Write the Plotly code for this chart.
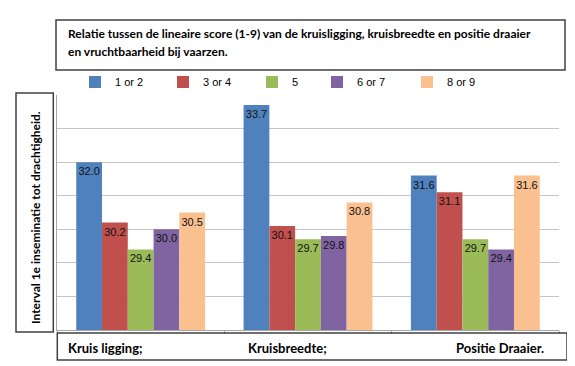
import plotly.graph_objects as go

categories = ["Kruis ligging;", "Kruisbreedte;", "Positie Draaier."]
series_names = ["1 or 2", "3 or 4", "5", "6 or 7", "8 or 9"]
values_1_2 = [32.0, 33.7, 31.6]
values_3_4 = [30.2, 30.1, 31.1]
values_5 = [29.4, 29.7, 29.7]
values_6_7 = [30.0, 29.8, 29.4]
values_8_9 = [30.5, 30.8, 31.6]
colors = ["#4F81BD", "#C0504D", "#9BBB59", "#8064A2", "#FAC090"]
title_lines = [
    "Relatie tussen de lineaire score (1-9) van de kruisligging, kruisbreedte en positie draaier",
    "en vruchtbaarheid bij vaarzen.",
]
y_title = "Interval 1e inseminatie tot drachtigheid."

# The page body adds an 8px margin, so the figure is laid out 8px up/left.
OFF = 8
W, H = 575 - OFF, 366 - OFF
PLOT_L, PLOT_R, PLOT_T, PLOT_B = 57, 559, 95, 330  # reference pixel coords
L, R, T, B = PLOT_L - OFF, W - (PLOT_R - OFF), PLOT_T - OFF, H - (PLOT_B - OFF)
PW, PH = W - L - R, H - T - B


def px(x):
    return (x - OFF - L) / PW


def py(y):
    return (H - B - (y - OFF)) / PH


series = [values_1_2, values_3_4, values_5, values_6_7, values_8_9]
legend_ids = ["legend", "legend2", "legend3", "legend4", "legend5"]
legend_text_x = [115, 203, 292, 357, 447]

fig = go.Figure()
for name, vals, col, lid in zip(series_names, series, colors, legend_ids):
    fig.add_trace(go.Bar(
        x=categories, y=vals, name=name, marker=dict(color=col, line=dict(width=0)),
        text=[f"{v:.1f}" for v in vals], textposition="inside", insidetextanchor="end",
        textangle=0, constraintext="none",
        textfont=dict(family="Liberation Sans, Arial", size=11, color="#111111"),
        legend=lid,
    ))

layout_legends = {}
for lid, tx in zip(legend_ids, legend_text_x):
    layout_legends[lid] = dict(
        orientation="h", x=px(tx - 40), xanchor="left", y=py(82), yanchor="middle",
        font=dict(family="Liberation Sans, Arial", size=11, color="#000000"),
        bgcolor="rgba(0,0,0,0)", borderwidth=0,
    )

shapes = [
    dict(type="rect", xref="paper", yref="paper", x0=px(56), x1=px(565), y0=py(20), y1=py(70),
         line=dict(color="#404040", width=1.5)),
    dict(type="rect", xref="paper", yref="paper", x0=px(16), x1=px(53.3), y0=py(93), y1=py(332),
         line=dict(color="#404040", width=1.5)),
    dict(type="rect", xref="paper", yref="paper", x0=px(57.3), x1=px(567), y0=py(333), y1=py(360),
         line=dict(color="#404040", width=1.5)),
]

bold = dict(family="Lato, Calibri, sans-serif", size=12, color="#000000", weight="bold")
annotations = [
    dict(text=title_lines[0], xref="paper", yref="paper", x=px(66), y=py(33), xanchor="left",
         yanchor="middle", showarrow=False, font=bold),
    dict(text=title_lines[1], xref="paper", yref="paper", x=px(66), y=py(51.5), xanchor="left",
         yanchor="middle", showarrow=False, font=bold),
    dict(text=y_title, xref="paper", yref="paper", x=px(35), y=py(218), xanchor="center",
         yanchor="middle", textangle=-90, showarrow=False, font=bold),
]
label_specs = [("left", -74.4), ("left", -61.8), ("right", 70.8)]
for cat, (anchor, shift) in zip(categories, label_specs):
    annotations.append(dict(text=cat, x=cat, xref="x", yref="paper", y=py(347.5), xanchor=anchor,
                            yanchor="middle", xshift=shift, showarrow=False,
                            font=dict(family="Lato, Calibri, sans-serif", size=13,
                                      color="#000000", weight="bold")))

fig.update_layout(
    width=W, height=H, margin=dict(l=L, r=R, t=T, b=B, autoexpand=False),
    paper_bgcolor="white", plot_bgcolor="white",
    barmode="group", bargap=0.23, bargroupgap=0,
    uniformtext=dict(minsize=11, mode="show"),
    showlegend=True,
    shapes=shapes, annotations=annotations,
    xaxis=dict(type="category", showticklabels=False, ticks="outside", tickson="boundaries",
               ticklen=3, tickcolor="#A6A6A6", showline=True, linecolor="#A6A6A6",
               showgrid=False, zeroline=False),
    yaxis=dict(range=[27, 34], dtick=1, showticklabels=False, showgrid=True,
               gridcolor="#C4C4C4", gridwidth=1, showline=True, linecolor="#A6A6A6",
               zeroline=False, ticks=""),
    **layout_legends,
)

fig.write_html("out.html")
